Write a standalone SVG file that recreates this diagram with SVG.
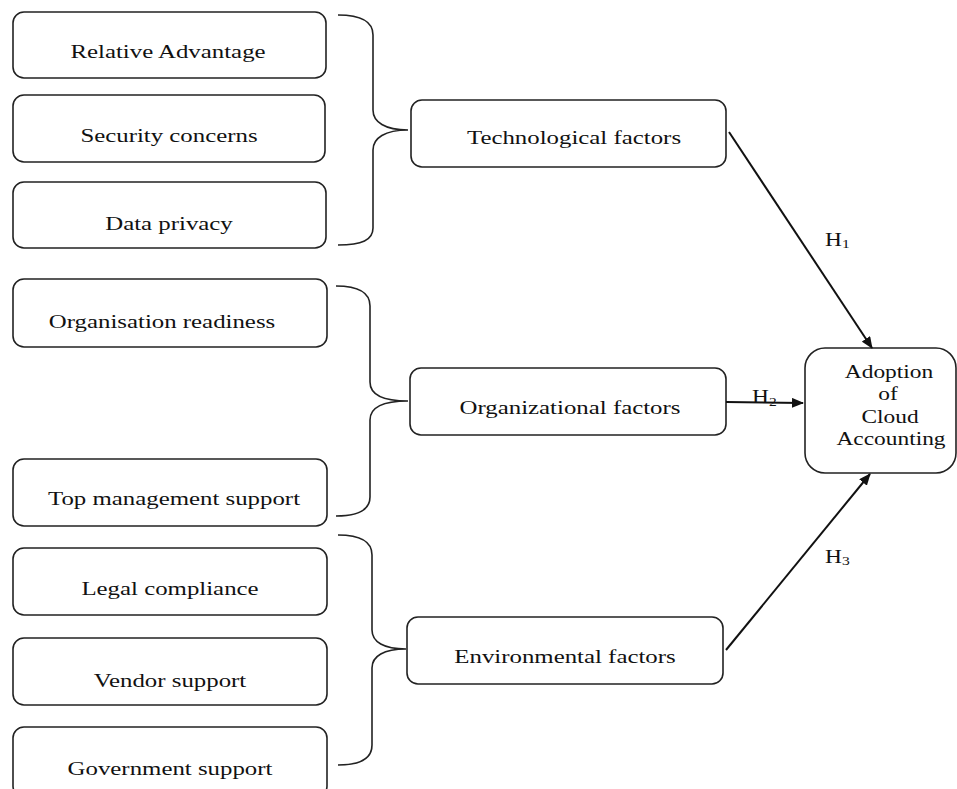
<svg xmlns="http://www.w3.org/2000/svg" width="957" height="789" viewBox="0 0 957 789">
<style>
.box{fill:#fff;stroke:#222;stroke-width:1.6}
.brace{fill:none;stroke:#222;stroke-width:1.6}
.conn{fill:none;stroke:#111;stroke-width:2}
text{font-family:"Liberation Serif","Times New Roman",serif;font-size:18px;fill:#111;text-anchor:middle}
.lbl{text-anchor:start}
.sub{font-size:12px}
</style>
<defs>
<marker id="arr" markerWidth="12" markerHeight="10" refX="11" refY="5" orient="auto" markerUnits="userSpaceOnUse">
<path d="M0,0 L12,5 L0,10 Z" fill="#111"/>
</marker>
</defs>
<rect width="957" height="789" fill="#fff"/>

<g id="relative-advantage"><rect class="box" x="13" y="12" width="313" height="66" rx="11"/><text transform="translate(168,58) scale(1.38,1)">Relative Advantage</text></g>
<g id="security-concerns"><rect class="box" x="13" y="95" width="312" height="67" rx="11"/><text transform="translate(169,142) scale(1.38,1)">Security concerns</text></g>
<g id="data-privacy"><rect class="box" x="13" y="182" width="313" height="66" rx="11"/><text transform="translate(169,230) scale(1.38,1)">Data privacy</text></g>

<g id="organisation-readiness"><rect class="box" x="13" y="279" width="314" height="68" rx="11"/><text transform="translate(162,328) scale(1.38,1)">Organisation readiness</text></g>
<g id="top-management-support"><rect class="box" x="13" y="459" width="314" height="67" rx="11"/><text transform="translate(174,505) scale(1.38,1)">Top management support</text></g>

<g id="legal-compliance"><rect class="box" x="13" y="548" width="314" height="67" rx="11"/><text transform="translate(170,595) scale(1.38,1)">Legal compliance</text></g>
<g id="vendor-support"><rect class="box" x="13" y="638" width="314" height="67" rx="11"/><text transform="translate(170,687) scale(1.38,1)">Vendor support</text></g>
<g id="government-support"><rect class="box" x="13" y="727" width="314" height="70" rx="11"/><text transform="translate(170,775) scale(1.38,1)">Government support</text></g>

<g id="technological-factors"><rect class="box" x="411" y="100" width="315" height="67" rx="11"/><text transform="translate(574,144) scale(1.38,1)">Technological factors</text></g>
<g id="organizational-factors"><rect class="box" x="410" y="368" width="316" height="67" rx="11"/><text transform="translate(570,414) scale(1.38,1)">Organizational factors</text></g>
<g id="environmental-factors"><rect class="box" x="407" y="617" width="316" height="67" rx="11"/><text transform="translate(565,663) scale(1.38,1)">Environmental factors</text></g>

<g id="adoption-of-cloud-accounting"><rect class="box" x="805" y="348" width="151" height="125" rx="20"/>
<text transform="translate(889,378) scale(1.3,1)">Adoption</text>
<text transform="translate(888,400) scale(1.3,1)">of</text>
<text transform="translate(890,423) scale(1.3,1)">Cloud</text>
<text transform="translate(891,445) scale(1.3,1)">Accounting</text>
</g>

<g id="connectors">
<path class="brace" d="M338,15 C362,15 373,22 373,35 L373,110 C373,122 385,130 408,130 C385,130 373,138 373,150 L373,228 C373,240 362,245 338,245"/>
<path class="brace" d="M336,286 C360,286 370,294 370,306 L370,382 C370,394 382,401 408,401 C382,401 370,408 370,420 L370,497 C370,509 360,516 336,516"/>
<path class="brace" d="M338,535 C362,535 372,543 372,555 L372,630 C372,642 384,649 406,649 C384,649 372,656 372,668 L372,745 C372,757 362,765 338,765"/>
<line class="conn" x1="729" y1="132" x2="872" y2="348" marker-end="url(#arr)"/>
<line class="conn" x1="726" y1="402" x2="803" y2="403" marker-end="url(#arr)"/>
<line class="conn" x1="726" y1="650" x2="870" y2="474" marker-end="url(#arr)"/>
<text class="lbl" transform="translate(825,246) scale(1.3,1)">H<tspan class="sub" dy="2">1</tspan></text>
<text class="lbl" transform="translate(752,403) scale(1.3,1)">H<tspan class="sub" dy="3">2</tspan></text>
<text class="lbl" transform="translate(825,563) scale(1.3,1)">H<tspan class="sub" dy="2">3</tspan></text>
</g>
</svg>
